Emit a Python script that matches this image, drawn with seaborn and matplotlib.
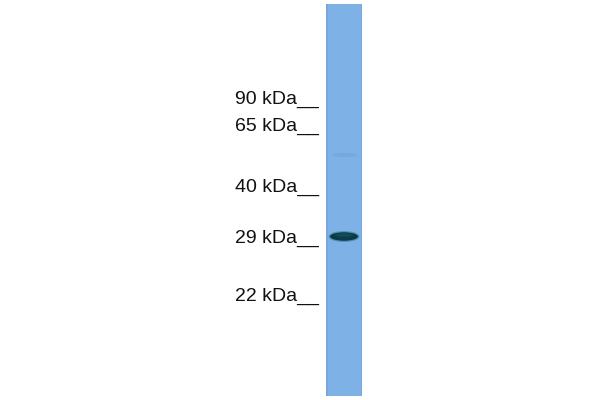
import matplotlib
matplotlib.use("Agg")
import matplotlib.pyplot as plt
from matplotlib.patches import Ellipse, Rectangle
import seaborn as sns
import pandas as pd

# Molecular weight ladder
marker_labels = ["90 kDa", "65 kDa", "40 kDa", "29 kDa", "22 kDa"]
marker_pos = [104, 131, 192, 243, 301]   # baseline of label text (px from top)

# Detected bands in the lane
band_pos = [236, 155]
band_strength = [1.0, 0.08]

sns.set_theme(style="white")
plt.rcParams["font.family"] = ["Liberation Sans", "DejaVu Sans"]

fig = plt.figure(figsize=(6, 4), dpi=100)
ax = fig.add_axes([0, 0, 1, 1])
ax.set_xlim(0, 600)
ax.set_ylim(400, 0)
ax.axis("off")

# lane
lane_x0, lane_x1, lane_y0, lane_y1 = 326, 362, 4, 396
ax.add_patch(Rectangle((lane_x0, lane_y0), lane_x1 - lane_x0, lane_y1 - lane_y0,
                       facecolor="#7eb1e5", edgecolor="none"))
ax.add_patch(Rectangle((lane_x0, lane_y0), 1.5, lane_y1 - lane_y0,
                       facecolor="#76a8dc", edgecolor="none"))
ax.add_patch(Rectangle((lane_x1 - 1.5, lane_y0), 1.5, lane_y1 - lane_y0,
                       facecolor="#76a8dc", edgecolor="none"))

# bands
df = pd.DataFrame({"pos": band_pos, "strength": band_strength})
for _, r in df.iterrows():
    if r.strength > 0.5:
        ax.add_patch(Ellipse((344, r.pos + 0.5), 31, 11, facecolor="#2a6a80", edgecolor="none", alpha=0.45))
        ax.add_patch(Ellipse((344, r.pos + 0.5), 28, 8.5, facecolor="#0b3b44", edgecolor="none"))
        ax.add_patch(Ellipse((344, r.pos - 1), 18, 4, facecolor="#104c55", edgecolor="none"))
    else:
        ax.add_patch(Ellipse((345, r.pos), 24, 4, facecolor="#70a2d5", edgecolor="none", alpha=0.6))

# marker labels
for lab, y in zip(marker_labels, marker_pos):
    ax.text(319, y, lab + "__", ha="right", va="baseline", fontsize=14, color="#111111")

fig.savefig("out.png", dpi=100)
